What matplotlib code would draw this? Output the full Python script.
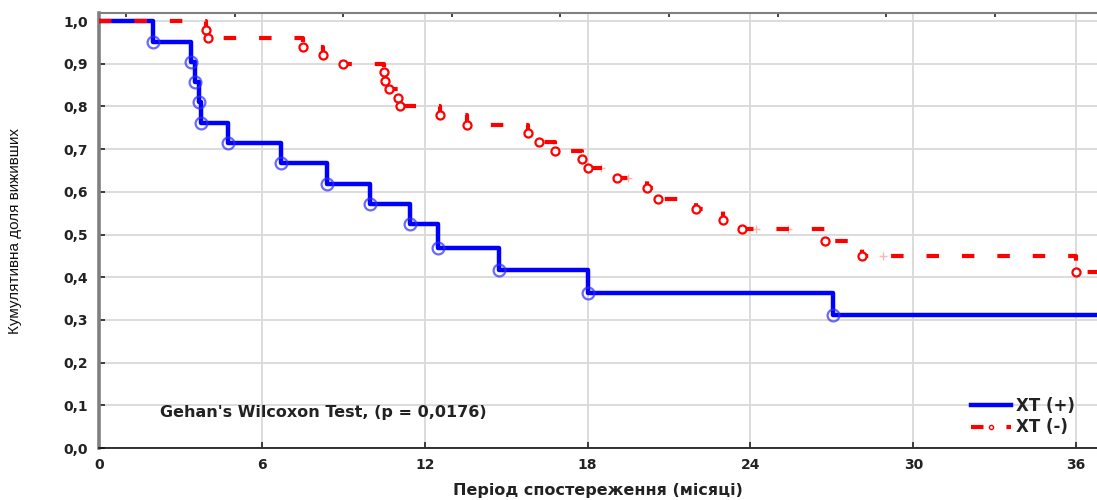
import matplotlib
matplotlib.use("Agg")
import matplotlib.pyplot as plt
import numpy as np
from matplotlib.lines import Line2D


# XT (+): event times (months) and cumulative survival after each event
blue_times = [2.0, 3.4, 3.55, 3.7, 3.75, 4.75, 6.7, 8.4, 10.0, 11.45, 12.5, 14.75, 18.0, 27.05]
blue_surv = [0.952, 0.905, 0.857, 0.810, 0.762, 0.714, 0.667, 0.619, 0.571, 0.524,
             0.468, 0.417, 0.364, 0.312]

# XT (-): event times and survival
red_times = [3.95, 4.0, 7.5, 8.25, 9.0, 10.5, 10.55, 10.7, 11.0, 11.1, 12.55, 13.55,
             15.8, 16.2, 16.8, 17.8, 18.0, 19.1, 20.2, 20.6, 22.0, 23.0, 23.7,
             26.75, 28.1, 36.0]
red_surv = [0.98, 0.96, 0.94, 0.92, 0.90, 0.88, 0.86, 0.84, 0.82, 0.80, 0.78, 0.757,
            0.737, 0.717, 0.696, 0.677, 0.656, 0.632, 0.609, 0.583, 0.56, 0.535, 0.512,
            0.484, 0.45, 0.413]

# XT (-): censored observations
red_cens_times = [18.5, 19.5, 24.2, 25.4, 28.9]
red_cens_surv = [0.656, 0.632, 0.512, 0.512, 0.45]

x_ticks = [0, 6, 12, 18, 24, 30, 36]
top_ticks = [1, 5, 9, 13, 17, 21, 25, 29, 33]
y_ticks = [0.0, 0.1, 0.2, 0.3, 0.4, 0.5, 0.6, 0.7, 0.8, 0.9, 1.0]
y_tick_labels = ["0,0", "0,1", "0,2", "0,3", "0,4", "0,5", "0,6", "0,7", "0,8", "0,9", "1,0"]

X_MAX = 36.77


def step_arrays(times, surv):
    xs = np.concatenate([[0.0], np.asarray(times, dtype=float), [X_MAX + 1]])
    ys = np.concatenate([[1.0], np.asarray(surv, dtype=float), [surv[-1]]])
    return xs, ys


def main() -> None:
    plt.rcParams["font.family"] = ["DejaVu Sans"]

    fig = plt.figure(figsize=(10.97, 5.0), dpi=100)
    ax = fig.add_axes([99 / 1097, 52 / 500, (1097 - 99) / 1097, (448 - 13) / 500])

    bx, by = step_arrays(blue_times, blue_surv)
    rx, ry = step_arrays(red_times, red_surv)

    ax.step(bx, by, where="post", color="#0000ff", lw=3.2, zorder=3)
    ax.plot(blue_times, blue_surv, "o", mfc="none", mec="#2a2aff", ms=8.5, mew=1.6,
            alpha=0.7, zorder=4)

    ax.step(rx, ry, where="post", color="#ff0000", lw=3.0,
            linestyle=(0, (3, 5.5)), zorder=5)
    ax.plot(red_times, red_surv, "o", mfc="white", mec="#ff0000", ms=5.8, mew=1.6, zorder=6)
    ax.plot(red_cens_times, red_cens_surv, "+", color="#ff0000", alpha=0.3, ms=6, mew=1, zorder=6)

    ax.set_xlim(0, X_MAX)
    ax.set_ylim(0, 1.019)

    ax.set_xticks(x_ticks)
    ax.set_xticklabels([str(t) for t in x_ticks])
    ax.set_yticks(y_ticks)
    ax.set_yticklabels(y_tick_labels)
    ax.tick_params(axis="both", direction="in", length=4, width=1.2, colors="#222222",
                   labelsize=10, pad=8)
    ax.tick_params(axis="x", pad=7)
    for lab in ax.get_xticklabels() + ax.get_yticklabels():
        lab.set_fontweight("bold")
        lab.set_color("#222222")

    ax.grid(True, color="#d9d9d9", lw=1.3)
    ax.set_axisbelow(True)

    ax.spines["left"].set_color("#808080")
    ax.spines["left"].set_linewidth(2.6)
    ax.spines["bottom"].set_color("#111111")
    ax.spines["bottom"].set_linewidth(1.2)
    ax.spines["top"].set_color("#808080")
    ax.spines["top"].set_linewidth(1.5)
    ax.spines["right"].set_visible(False)

    top = ax.secondary_xaxis("top")
    top.set_xticks(top_ticks)
    top.set_xticklabels([])
    top.tick_params(direction="in", length=3, width=1.2, colors="#222222")
    top.spines["top"].set_visible(False)

    ax.set_xlabel("Період спостереження (місяці)", fontsize=11.5, fontweight="bold",
                  color="#222222", labelpad=8)
    ax.set_ylabel("Кумулятивна доля виживших", fontsize=11, family="Liberation Sans",
                  color="#111111", labelpad=30)

    ax.text(2.25, 0.082, "Gehan's Wilcoxon Test, (p = 0,0176)", fontsize=11.5,
            fontweight="bold", color="#222222", ha="left", va="center")

    handles = [
        Line2D([], [], color="#0000ff", lw=3.2),
        Line2D([], [], color="#ff0000", lw=3.0, linestyle=(0, (3, 5.5)),
               marker="o", ms=3, mfc="white", mec="#ff0000"),
    ]
    leg = ax.legend(handles, ["XT (+)", "XT (-)"], loc="lower right",
                    bbox_to_anchor=(0.99, 0.0), frameon=False, handlelength=2.4,
                    handletextpad=0.3, labelspacing=0.2, borderaxespad=0.3,
                    prop={"weight": "bold", "size": 12})
    for t in leg.get_texts():
        t.set_color("#222222")

    fig.savefig("out.png", dpi=100)
    plt.close(fig)


if __name__ == "__main__":
    main()
